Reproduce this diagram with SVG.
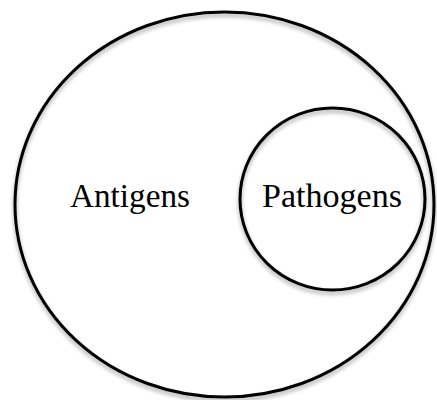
<svg xmlns="http://www.w3.org/2000/svg" width="437" height="400" viewBox="0 0 437 400">
  <defs>
    <filter id="sh" x="-10%" y="-10%" width="120%" height="125%">
      <feGaussianBlur in="SourceAlpha" stdDeviation="2"/>
      <feOffset dx="0" dy="3" result="b"/>
      <feComponentTransfer><feFuncA type="linear" slope="0.35"/></feComponentTransfer>
      <feMerge><feMergeNode/><feMergeNode in="SourceGraphic"/></feMerge>
    </filter>
  </defs>
  <style>
    .c { fill: none; stroke: #000; stroke-width: 3; filter: url(#sh); }
    .t { font-family: "Liberation Serif", "Times New Roman", serif; font-size: 33px; fill: #000; }
  </style>
  <rect width="437" height="400" fill="#fff"/>
  <g id="antigens">
    <ellipse class="c" cx="224.5" cy="204.5" rx="209.5" ry="192.5"/>
    <text class="t" x="70" y="207" textLength="120" lengthAdjust="spacingAndGlyphs">Antigens</text>
  </g>
  <g id="pathogens">
    <ellipse class="c" cx="332.5" cy="199" rx="92.5" ry="91"/>
    <text class="t" x="262" y="207" textLength="140" lengthAdjust="spacingAndGlyphs">Pathogens</text>
  </g>
  <g id="connectors"/>
</svg>
